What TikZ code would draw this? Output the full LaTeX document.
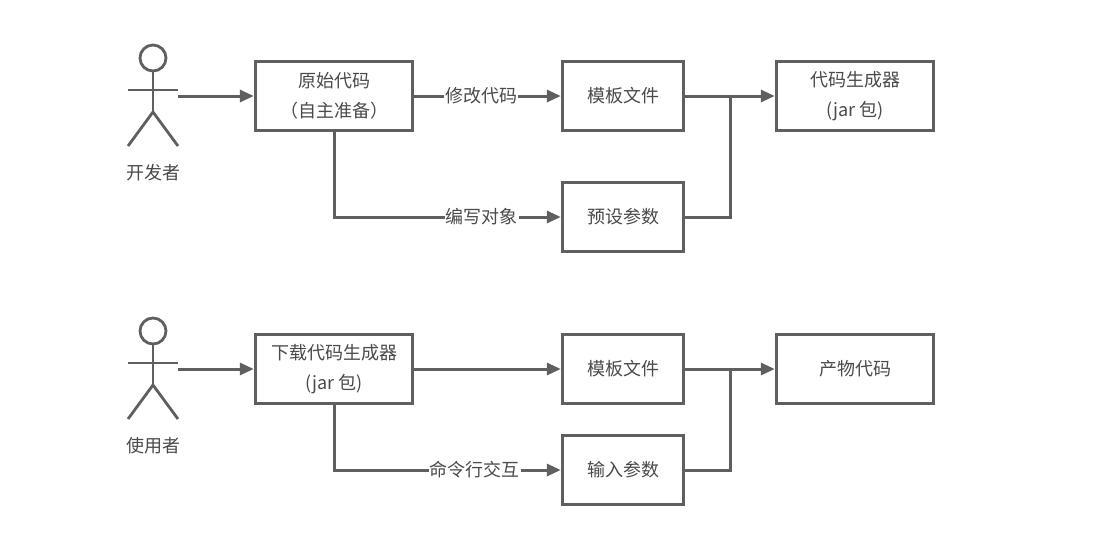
\documentclass[tikz,border=0pt]{standalone}
\usepackage{fontspec}
\setmainfont{Noto Sans CJK SC}
\usetikzlibrary{arrows.meta,positioning}
\definecolor{ink}{HTML}{5F5F5F}
\definecolor{txt}{HTML}{4A4A4A}
\tikzset{
  every node/.style={text=txt,font=\fontsize{18}{29}\selectfont},
  box/.style={draw=ink,line width=3pt,fill=white,minimum height=69.4pt,align=center,inner sep=0pt},
  wide/.style={box,minimum width=157.4pt},
  narrow/.style={box,minimum width=121.4pt},
  flow/.style={draw=ink,line width=3pt,-{Triangle[length=14pt,width=12pt]}},
  wire/.style={draw=ink,line width=3pt},
  limb/.style={draw=ink,line width=2.8pt},
  tag/.style={inner xsep=1pt,inner ysep=0pt,fill=white},
}
% Single-line box text sits a little under the geometric centre
\newcommand{\lowered}[1]{\raisebox{-1pt}{#1}}
% Stick figure drawn about the given origin, with its caption under the feet
\newcommand{\stickman}[2]{%
  \begin{scope}[shift={(#1)}]
    \draw[limb] (0,58) circle (13);
    \draw[limb] (0,71) -- (0,112);
    \draw[limb] (-25,90) -- (25,90);
    \draw[limb] (-25,146) -- (0,112) -- (25,146);
    \node[inner sep=0pt] at (0,173) {#2};
  \end{scope}}
\begin{document}
\begin{tikzpicture}[x=1pt,y=-1pt]
\useasboundingbox (0,0) rectangle (1118,550);

% Author workflow
\stickman{153,0}{开发者}
\coordinate (devhand) at (178,96);
\node[wide] (source) at (334,96) {原始代码\\[1pt]（自主准备）};
\node[narrow] (tmplA) at (623,96) {\lowered{模板文件}};
\node[wide] (gen) at (855,96) {代码生成器\\[1pt](jar 包)};
\node[narrow] (preset) at (623,217) {\lowered{预设参数}};
\coordinate (joinA) at (730,96);
\draw[flow] (devhand) -- (source);
\draw[flow] (source) -- node[tag,pos=0.456]{\lowered{修改代码}} (tmplA);
\draw[flow] (source.south) |- node[tag,pos=0.826]{\lowered{编写对象}} (preset);
\draw[flow] (tmplA) -- (gen);
\draw[wire] (preset) -| (joinA);

% User workflow
\stickman{153,273}{使用者}
\coordinate (userhand) at (178,369);
\node[wide] (fetch) at (334,369) {下载代码生成器\\[1pt](jar 包)};
\node[narrow] (tmplB) at (623,369) {\lowered{模板文件}};
\node[wide] (output) at (855,369) {\lowered{产物代码}};
\node[narrow] (input) at (623,470) {\lowered{输入参数}};
\coordinate (joinB) at (730,369);
\draw[flow] (userhand) -- (fetch);
\draw[flow] (fetch) -- (tmplB);
\draw[flow] (fetch.south) |- node[tag,pos=0.81]{\lowered{命令行交互}} (input);
\draw[flow] (tmplB) -- (output);
\draw[wire] (input) -| (joinB);
\end{tikzpicture}
\end{document}
